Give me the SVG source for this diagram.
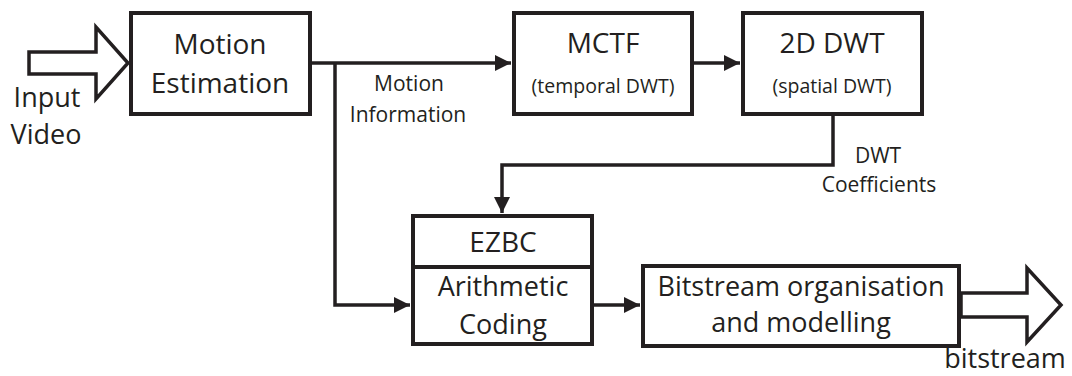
<svg xmlns="http://www.w3.org/2000/svg" width="1072" height="376" viewBox="0 0 1072 376">
  <style>
    .box { fill: #ffffff; stroke: #231f20; stroke-width: 4; }
    .wire { fill: none; stroke: #231f20; stroke-width: 3.5; }
    .fat { fill: #ffffff; stroke: #231f20; stroke-width: 3.5; stroke-linejoin: miter; }
    text { font-family: "Open Sans", "Liberation Sans", sans-serif; fill: #231f20; text-anchor: middle; }
    .big { font-size: 28px; }
    .mid { font-size: 27px; }
    .lbl { font-size: 21px; }
    .sub { font-size: 19.5px; }
  </style>
  <defs>
    <marker id="head" markerUnits="userSpaceOnUse" markerWidth="18" markerHeight="18" refX="16" refY="8" orient="auto">
      <path d="M0,0 L16,8 L0,16 Z" fill="#231f20"/>
    </marker>
  </defs>

  <g id="connectors">
    <!-- Motion Estimation to MCTF -->
    <path class="wire" d="M311,63 H511" marker-end="url(#head)"/>
    <!-- motion information branch down to the coder -->
    <path class="wire" d="M335,63 V305 H410" marker-end="url(#head)"/>
    <!-- MCTF to 2D DWT -->
    <path class="wire" d="M693,63 H740" marker-end="url(#head)"/>
    <!-- DWT coefficients back to EZBC -->
    <path class="wire" d="M833,115 V165 H502 V213" marker-end="url(#head)"/>
    <!-- coder to bitstream organisation -->
    <path class="wire" d="M593,305 H640" marker-end="url(#head)"/>
  </g>

  <g id="input">
    <polygon class="fat" points="29,52 96,52 96,27 128,63 96,99 96,74 29,74"/>
    <text class="mid" x="47" y="107">Input</text>
    <text class="mid" x="46" y="144">Video</text>
  </g>

  <g id="motion-estimation">
    <rect class="box" x="131" y="13" width="179" height="101"/>
    <text class="big" x="220" y="54">Motion</text>
    <text class="big" x="220" y="93">Estimation</text>
  </g>

  <g id="motion-info-label">
    <text class="lbl" x="409" y="91">Motion</text>
    <text class="lbl" x="408" y="122">Information</text>
  </g>

  <g id="mctf">
    <rect class="box" x="514" y="13" width="178" height="101"/>
    <text class="big" x="603" y="53">MCTF</text>
    <text class="sub" x="603" y="93">(temporal DWT)</text>
  </g>

  <g id="dwt2d">
    <rect class="box" x="743" y="13" width="179" height="101"/>
    <text class="big" x="832" y="53">2D DWT</text>
    <text class="sub" x="832" y="93">(spatial DWT)</text>
  </g>

  <g id="dwt-coeff-label">
    <text class="lbl" x="878" y="163">DWT</text>
    <text class="lbl" x="879" y="192">Coefficients</text>
  </g>

  <g id="ezbc">
    <rect class="box" x="413" y="216" width="179" height="128"/>
    <line class="box" x1="413" y1="267" x2="592" y2="267"/>
    <text class="big" x="503" y="252">EZBC</text>
    <text class="mid" x="503" y="296">Arithmetic</text>
    <text class="mid" x="503" y="334">Coding</text>
  </g>

  <g id="bitstream-organisation">
    <rect class="box" x="643" y="266" width="316" height="80"/>
    <text class="mid" x="801" y="296">Bitstream organisation</text>
    <text class="mid" x="801" y="332">and modelling</text>
  </g>

  <g id="output">
    <polygon class="fat" points="961,293 1027,293 1027,268 1061,305 1027,342 1027,317 961,317"/>
    <text class="mid" x="1005" y="368">bitstream</text>
  </g>
</svg>
